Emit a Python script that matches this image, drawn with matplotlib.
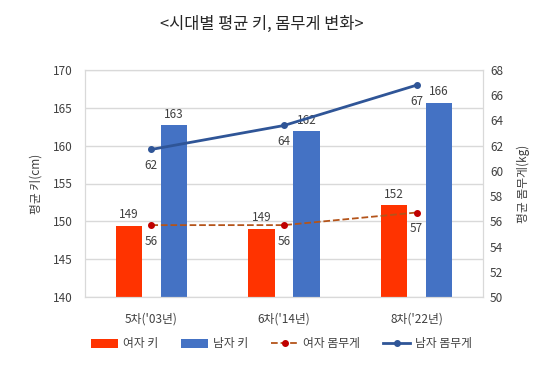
import matplotlib.pyplot as plt
import numpy as np

plt.rcParams['font.family'] = ['Noto Sans CJK KR', 'DejaVu Sans']

# data
categories = ["5차('03년)", "6차('14년)", "8차('22년)"]
female_height = [149.4, 149.0, 152.1]
male_height = [162.7, 161.9, 165.7]
female_weight = [55.7, 55.7, 56.7]
male_weight = [61.7, 63.6, 66.8]
female_height_labels = ['149', '149', '152']
male_height_labels = ['163', '162', '166']
female_weight_labels = ['56', '56', '57']
male_weight_labels = ['62', '64', '67']

red = '#FF3300'
blue = '#4472C4'
dark_blue = '#2F5597'
brown = '#B4541A'
txt = '#404040'

fig = plt.figure(figsize=(5.56, 3.75), dpi=100)
ax = fig.add_axes([85 / 556, 1 - 297 / 375, 398 / 556, 227 / 375])
ax2 = ax.twinx()

x = np.arange(len(categories))
w = 0.2
off = 0.17

ax.bar(x - off, female_height, w, color=red, zorder=2, label='여자 키')
ax.bar(x + off, male_height, w, color=blue, zorder=2, label='남자 키')
ax.set_ylim(140, 170)
ax.set_yticks(range(140, 171, 5))
ax.set_xlim(-0.5, 2.5)
ax.set_xticks(x)
ax.set_xticklabels(categories)
ax.grid(axis='y', color='#D9D9D9', linewidth=1, zorder=0)
ax.set_axisbelow(True)
ax.tick_params(length=0, labelsize=8.5, colors=txt)
ax.tick_params(axis='y', pad=9)
ax.tick_params(axis='x', pad=11)
ax.set_ylabel('평균 키(cm)', fontsize=8.5, color=txt, labelpad=7)

for i in range(len(x)):
    ax.text(x[i] - off, female_height[i] + 0.6, female_height_labels[i],
            ha='center', va='bottom', fontsize=8.5, color=txt)
    ax.text(x[i] + off, male_height[i] + 0.6, male_height_labels[i],
            ha='center', va='bottom', fontsize=8.5, color=txt)

ax2.plot(x, female_weight, color=brown, linestyle='--', linewidth=1.3,
         marker='o', markersize=4, markerfacecolor='#C00000',
         markeredgecolor='#C00000', label='여자 몸무게', zorder=3)
ax2.plot(x, male_weight, color=dark_blue, linewidth=2,
         marker='o', markersize=4, label='남자 몸무게', zorder=3)
ax2.set_ylim(50, 68)
ax2.set_yticks(range(50, 69, 2))
ax2.tick_params(length=0, labelsize=8.5, colors=txt, pad=5)
ax2.set_ylabel('평균 몸무게(kg)', fontsize=8.5, color=txt, rotation=90, labelpad=10)

for i in range(len(x)):
    ax2.text(x[i], female_weight[i] - 1.27, female_weight_labels[i],
             ha='center', va='center', fontsize=8.5, color=txt)
    ax2.text(x[i], male_weight[i] - 1.27, male_weight_labels[i],
             ha='center', va='center', fontsize=8.5, color=txt)

for a in (ax, ax2):
    for s in a.spines.values():
        s.set_color('#D9D9D9')

fig.text(0.47, 1 - 24 / 375, '<시대별 평균 키, 몸무게 변화>', ha='center', va='center',
         fontsize=11.8, color='#262626')

h1, l1 = ax.get_legend_handles_labels()
h2, l2 = ax2.get_legend_handles_labels()
fig.legend(h1 + h2, l1 + l2, loc='center', bbox_to_anchor=(0.506, 1 - 344 / 375),
           ncol=4, frameon=False, fontsize=8.5, handlelength=2.35,
           columnspacing=1.9, handletextpad=0.4, labelcolor=txt)

fig.savefig('out.png', dpi=100)
